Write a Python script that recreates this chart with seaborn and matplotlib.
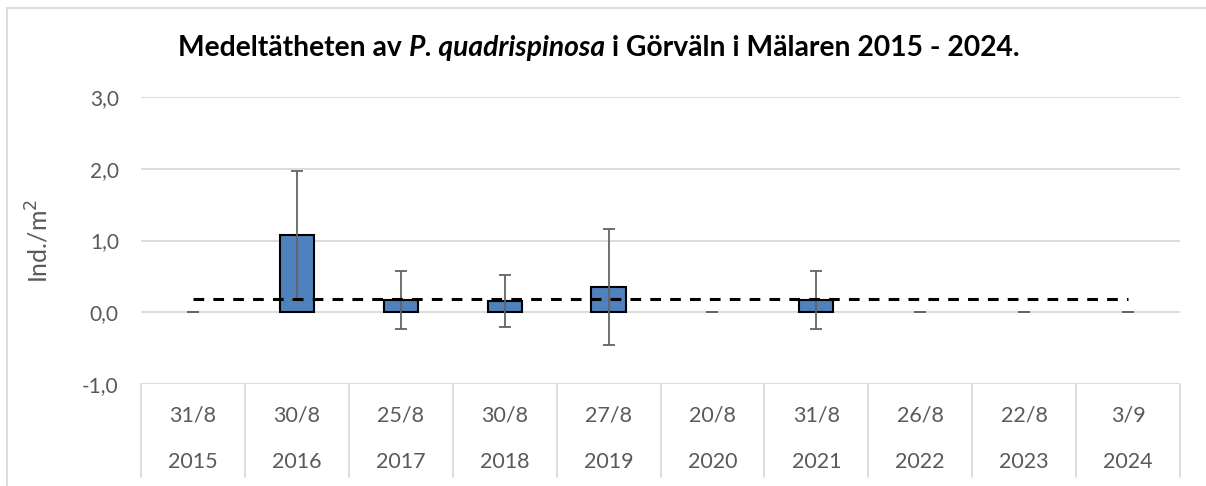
import matplotlib
matplotlib.use("Agg")
import matplotlib.pyplot as plt
import matplotlib.transforms as mtransforms
from matplotlib.patches import Rectangle
import seaborn as sns
import numpy as np

# ---- data ----
years = ["2015", "2016", "2017", "2018", "2019", "2020", "2021", "2022", "2023", "2024"]
dates = ["31/8", "30/8", "25/8", "30/8", "27/8", "20/8", "31/8", "26/8", "22/8", "3/9"]
density = [0.0, 1.07, 0.17, 0.16, 0.355, 0.0, 0.17, 0.0, 0.0, 0.0]
error = [0.0, 0.90, 0.41, 0.36, 0.81, 0.0, 0.41, 0.0, 0.0, 0.0]
mean_level = [0.19] * len(years)
yticks = [-1.0, 0.0, 1.0, 2.0, 3.0]
title_parts = [("Medeltätheten av ", "normal"), ("P. quadrispinosa", "italic"),
               (" i Görväln i Mälaren 2015 - 2024.", "normal")]

sns.set_theme(style="white")
plt.rcParams['font.family'] = ['Lato', 'DejaVu Sans']

W, H = 1206, 486
fig = plt.figure(figsize=(W / 100, H / 100), dpi=100)
ax = fig.add_axes([141 / W, 1 - 384 / H, (1180 - 141) / W, (384 - 97) / H])

grid_c = "#d9d9d9"
text_c = "#595959"

for yv in yticks:
    ax.axhline(yv, color=grid_c, lw=1.3, zorder=0)

x = np.arange(len(years))
sns.barplot(x=x, y=density, color="#4f81bd", edgecolor="black", linewidth=1.5,
            width=0.33, saturation=1, ax=ax, zorder=2)
for p, v in zip(ax.patches, density):
    if v == 0:
        p.set_linewidth(0)

ax.errorbar(x, density, yerr=error, fmt="none", ecolor="#636363", elinewidth=1.3,
            capsize=4.3, capthick=1.3, zorder=3)

ax.plot(x, mean_level, color="black", lw=2.2, linestyle=(0, (3.5, 3)), zorder=4)

ax.set_xlim(-0.5, len(years) - 0.5)
ax.set_ylim(-1.0, 3.0)
ax.set_yticks(yticks)
ax.set_yticklabels([f"{v:.1f}".replace(".", ",") for v in yticks], color=text_c, fontsize=15)
ax.tick_params(axis="y", length=0, pad=16)
ax.set_xticks([])
ax.set_xlabel("")
for s in ax.spines.values():
    s.set_visible(False)

# category table under the axis
trans = mtransforms.blended_transform_factory(ax.transData, ax.transAxes)
ybot = (384 - 477) / (384 - 97)
for b in np.arange(-0.5, len(years), 1.0):
    ax.plot([b, b], [0, ybot], color=grid_c, lw=1.3, transform=trans, clip_on=False)
for i, (d, yr) in enumerate(zip(dates, years)):
    ax.text(i, (384 - 415) / (384 - 97), d, transform=trans, ha="center", va="center",
            color=text_c, fontsize=15.5)
    ax.text(i, (384 - 462) / (384 - 97), yr, transform=trans, ha="center", va="center",
            color=text_c, fontsize=15.5)

ax.set_ylabel("Ind./m$^2$", color=text_c, fontsize=18)
ax.yaxis.set_label_coords(-(141 - 52) / (1180 - 141), 0.5)

# title composed of regular + italic pieces, centered
fig.canvas.draw()
renderer = fig.canvas.get_renderer()
texts = []
for s, style in title_parts:
    t = fig.text(0, 1 - 48 / H, s, ha="left", va="center", fontsize=20.3,
                 fontweight="bold", fontstyle=style, color="black")
    texts.append(t)
widths = [t.get_window_extent(renderer).width for t in texts]
total = sum(widths)
x0 = 599 - total / 2
for t, w in zip(texts, widths):
    t.set_x(x0 / W)
    x0 += w

fig.patches.append(Rectangle((7 / W, -0.1), 1.2, 1.1 - 8 / H, transform=fig.transFigure,
                             fill=False, edgecolor=grid_c, lw=1.3))

fig.savefig("out.png", dpi=100)
